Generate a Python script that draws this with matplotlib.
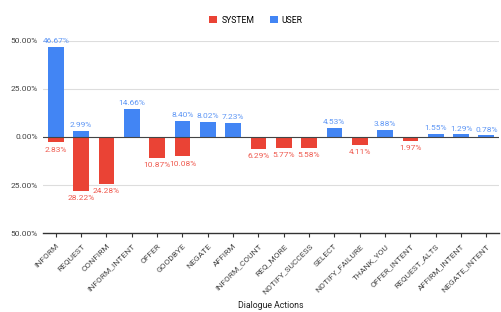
import numpy as np
import matplotlib
matplotlib.use("Agg")
import matplotlib.pyplot as plt

plt.rcParams['font.family'] = ['Roboto', 'DejaVu Sans']

actions = ['INFORM', 'REQUEST', 'CONFIRM', 'INFORM_INTENT', 'OFFER', 'GOODBYE',
           'NEGATE', 'AFFIRM', 'INFORM_COUNT', 'REQ_MORE', 'NOTIFY_SUCCESS',
           'SELECT', 'NOTIFY_FAILURE', 'THANK_YOU', 'OFFER_INTENT',
           'REQUEST_ALTS', 'AFFIRM_INTENT', 'NEGATE_INTENT']
system = [2.83, 28.22, 24.28, 0, 10.87, 10.08, 0, 0, 6.29, 5.77, 5.58,
          0, 4.11, 0, 1.97, 0, 0, 0]
user = [46.67, 2.99, 0, 14.66, 0, 8.40, 8.02, 7.23, 0, 0, 0,
        4.53, 0, 3.88, 0, 1.55, 1.29, 0.78]
yticks = [-50, -25, 0, 25, 50]

red = '#EA4335'
blue = '#4285F4'

fig = plt.figure(figsize=(5.02, 3.12), dpi=100)
ax = fig.add_axes([0.086, 0.253, 0.908, 0.616])

x = np.arange(len(actions))
sys_neg = [-v for v in system]
ax.bar(x, sys_neg, width=0.62, color=red, label='SYSTEM', zorder=3)
ax.bar(x, user, width=0.62, color=blue, label='USER', zorder=3)

# value labels
for i in range(len(actions)):
    if user[i] > 0:
        ax.annotate(f'{user[i]:.2f}%', (x[i], user[i]), xytext=(0, 2),
                    textcoords='offset points', ha='center', va='bottom',
                    fontsize=6, color='#5f97f5')
    if system[i] > 0:
        ax.annotate(f'{system[i]:.2f}%', (x[i], -system[i]), xytext=(0, -3),
                    textcoords='offset points', ha='center', va='top',
                    fontsize=6, color='#ef5b50')

ax.set_xlim(-0.5, len(actions) - 0.5)
ax.set_ylim(-50, 50)
ax.set_yticks(yticks)
ax.set_yticklabels([f'{abs(v):.2f}%' for v in yticks], fontsize=6, color='#444444')
ax.set_xticks(x)
ax.set_xticklabels(actions, rotation=45, ha='right', rotation_mode='anchor',
                   fontsize=6, color='#444444')
ax.tick_params(axis='y', length=0, pad=4)
ax.tick_params(axis='x', length=3, color='#333333', width=0.8, pad=4)

for s in ['top', 'right', 'left']:
    ax.spines[s].set_visible(False)
ax.spines['bottom'].set_color('#333333')
ax.spines['bottom'].set_linewidth(1.0)

for v in [-25, 25, 50]:
    ax.axhline(v, color='#dddddd', linewidth=0.8, zorder=1)
ax.axhline(0, color='#444444', linewidth=0.8, zorder=4)

fig.text(0.54, 1 - 306 / 312, 'Dialogue Actions', fontsize=6.3, color='#222222',
         ha='center', va='center')

fig.legend(loc='upper center', bbox_to_anchor=(0.51, 0.975), ncol=2, frameon=False,
           fontsize=6.2, handlelength=0.9, handleheight=0.9, columnspacing=1.8,
           handletextpad=0.5)

fig.savefig('out.png', dpi=100)
